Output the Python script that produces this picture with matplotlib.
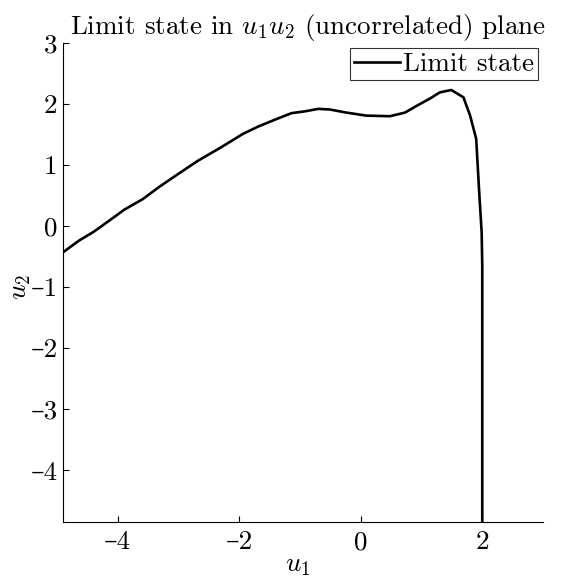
import matplotlib
matplotlib.use('Agg')

import matplotlib.pyplot as plt
from matplotlib.ticker import FuncFormatter

# Computer Modern look for text and math; DejaVu Serif fills in the dash
plt.rcParams['font.family'] = ['cmr10', 'DejaVu Serif']
plt.rcParams['mathtext.fontset'] = 'cm'
plt.rcParams['axes.formatter.use_mathtext'] = False

# limit state curve in the standard normal plane
u1 = [-4.90, -4.64, -4.39, -4.11, -3.89, -3.59, -3.32, -3.01, -2.68, -2.30,
      -1.94, -1.69, -1.42, -1.14, -0.92, -0.70, -0.51, -0.24, 0.09, 0.48,
      0.73, 0.92, 1.14, 1.30, 1.49, 1.69, 1.80, 1.90, 1.95, 1.99, 2.00, 2.00]
u2 = [-0.43, -0.24, -0.09, 0.11, 0.27, 0.44, 0.64, 0.85, 1.07, 1.29,
      1.51, 1.63, 1.74, 1.85, 1.88, 1.92, 1.91, 1.86, 1.81, 1.80,
      1.86, 1.97, 2.09, 2.19, 2.23, 2.11, 1.81, 1.43, 0.55, -0.10, -0.65, -5.00]

xticks = [-4, -2, 0, 2]
yticks = [-4, -3, -2, -1, 0, 1, 2, 3]

fs = 19.5


def dash_fmt(v, pos):
    # negative ticks get an en dash instead of a hyphen
    s = '%g' % v
    return s.replace('-', '\u2013')


fig = plt.figure(figsize=(5.63, 5.77), dpi=100)
ax = fig.add_axes([0.112, 0.0953, 0.8525, 0.8302])

ax.plot(u1, u2, color='black', linewidth=1.9, label='Limit state')

ax.set_xlim(-4.9, 3)
ax.set_ylim(-4.85, 3)
ax.set_xticks(xticks)
ax.set_yticks(yticks)
ax.xaxis.set_major_formatter(FuncFormatter(dash_fmt))
ax.yaxis.set_major_formatter(FuncFormatter(dash_fmt))

ax.spines['top'].set_visible(False)
ax.spines['right'].set_visible(False)
ax.tick_params(direction='in', length=4, width=0.8, labelsize=fs)
ax.tick_params(axis='x', pad=6)
ax.tick_params(axis='y', pad=4)

ax.set_xlabel('$u_1$', fontsize=fs)
ax.xaxis.set_label_coords(0.49, -0.092, transform=ax.transAxes)
ax.xaxis.label.set_va('center')
ax.set_ylabel('$u_2$', fontsize=fs)
ax.yaxis.set_label_coords(-0.088, 0.49, transform=ax.transAxes)
ax.yaxis.label.set_va('center')
ax.set_title('Limit state in $u_1u_2$ (uncorrelated) plane', fontsize=fs,
             pad=4, x=0.511)

leg = ax.legend(loc='upper right', fontsize=fs, frameon=True, fancybox=False,
                handlelength=1.7, handletextpad=0.1, borderpad=0.15,
                borderaxespad=0.2)
leg.get_frame().set_edgecolor('black')
leg.get_frame().set_linewidth(0.8)

plt.savefig('out.png', dpi=100)
